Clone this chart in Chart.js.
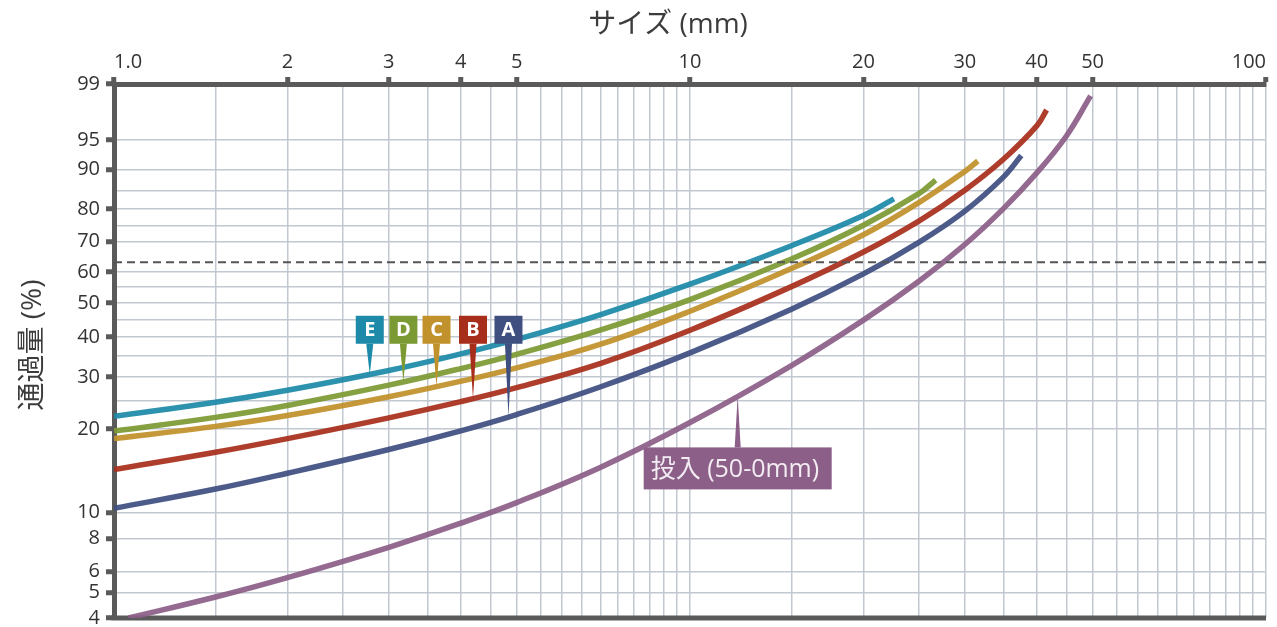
<!DOCTYPE html>
<html lang="ja">
<head>
<meta charset="utf-8">
<title>サイズ別通過量</title>
<script src="https://cdn.jsdelivr.net/npm/chart.js@4.4.1/dist/chart.umd.min.js"></script>
<style>
    html, body { margin: 0; padding: 0; background: #fff; }
    #wrap { width: 1277px; height: 627px; position: relative; }
</style>
</head>
<body>
<div id="wrap"><canvas id="sieveChart"></canvas></div>
<script>
// size (mm) and cumulative passing (%)
const sizesA = [1, 1.5, 2, 3, 4, 5, 7, 10, 15, 20, 25, 30, 35, 37.6];
const passA = [10.36, 12.2, 13.93, 16.95, 19.72, 22.45, 27.85, 35.76, 48.07, 59.34, 69.82, 79.46, 88.33, 92.64];

const sizesB = [1, 1.5, 2, 3, 4, 5, 7, 10, 15, 20, 25, 30, 35, 40, 41.6];
const passB = [14.36, 16.56, 18.51, 21.87, 24.83, 27.65, 33.17, 41.87, 55.19, 66.57, 76.55, 85.19, 91.97, 96.68, 98.03];

const sizesC = [1, 1.5, 2, 3, 4, 5, 7, 10, 15, 20, 25, 30, 31.6];
const passC = [18.53, 20.43, 22.27, 25.8, 29.03, 32.08, 38.02, 47.45, 61.09, 72.17, 81.95, 89.58, 91.65];

const sizesD = [1, 1.5, 2, 3, 4, 5, 7, 10, 15, 20, 25, 26.7];
const passD = [19.68, 21.95, 24.11, 28.19, 31.91, 35.39, 41.95, 51.04, 64.27, 75.2, 84.36, 87.67];

const sizesE = [1, 1.5, 2, 3, 4, 5, 7, 10, 15, 20, 22.6];
const passE = [22.13, 24.73, 27.12, 31.47, 35.51, 39.32, 46.46, 55.98, 68.64, 78.15, 82.9];

const sizesFeed = [1.06, 1.5, 2, 3, 4, 5, 7, 10, 15, 20, 25, 30, 35, 40, 45, 49.6];
const passFeed = [4.0, 4.81, 5.7, 7.42, 9.13, 10.88, 14.65, 21.07, 32.63, 44.78, 57.02, 69.03, 80.19, 89.26, 95.51, 98.84];

const characteristicPct = 63.2;

const xGridSizes = [1, 1.5, 2, 2.5, 3, 3.5, 4, 4.5, 5, 5.5, 6, 6.5, 7, 7.5, 8, 8.5, 9, 9.5, 10,
    15, 20, 25, 30, 35, 40, 45, 50, 55, 60, 65, 70, 75, 80, 85, 90, 95, 100];
const xTickLabels = { 1: '1.0', 2: '2', 3: '3', 4: '4', 5: '5', 10: '10', 20: '20', 30: '30', 40: '40', 50: '50', 100: '100' };

const yGridPcts = [4, 5, 6, 8, 10, 20, 25, 30, 35, 40, 45, 50, 55, 60, 70, 75, 80, 85, 90, 95];
const yTickLabels = [4, 5, 6, 8, 10, 20, 30, 40, 50, 60, 70, 80, 90, 95, 99];
const yMinPct = 4;
const yMaxPct = 99.3;

// Rosin-Rammler style axis: log(-ln(1 - P))
const rr = (pct) => Math.log10(-Math.log(1 - pct / 100));
const rrInv = (v) => 100 * (1 - Math.exp(-Math.pow(10, v)));

const axisColor = '#5a5a5a';
const gridColor = '#c1c8cf';
const textColor = '#333333';
const latinFont = '"Open Sans", "Noto Sans CJK JP", sans-serif';

const series = [
    { key: 'E', sizes: sizesE, pass: passE, color: '#1c8aa8' },
    { key: 'D', sizes: sizesD, pass: passD, color: '#7c9a33' },
    { key: 'C', sizes: sizesC, pass: passC, color: '#c1912b' },
    { key: 'B', sizes: sizesB, pass: passB, color: '#a82e1c' },
    { key: 'A', sizes: sizesA, pass: passA, color: '#3e4f80' },
    { key: 'feed', sizes: sizesFeed, pass: passFeed, color: '#8c5f88' },
];

const toPoints = (sizes, pass) => sizes.map((size, i) => ({ x: size, y: rr(pass[i]) }));

const withAlpha = (hex, alpha) => {
    const n = parseInt(hex.slice(1), 16);
    return `rgba(${(n >> 16) & 255}, ${(n >> 8) & 255}, ${n & 255}, ${alpha})`;
};

const yLabelFor = (value) => {
    const pct = rrInv(value);
    const hit = yTickLabels.find((label) => Math.abs(label - pct) < 0.5);
    return hit === undefined ? '' : String(hit);
};

// value of a curve (in axis units) at a given size, linear in log-x
const curveAt = (item, size) => {
    const { sizes, pass } = item;
    for (let i = 0; i < sizes.length - 1; i++) {
        if (size >= sizes[i] && size <= sizes[i + 1]) {
            const t = (Math.log10(size) - Math.log10(sizes[i])) / (Math.log10(sizes[i + 1]) - Math.log10(sizes[i]));
            return rr(pass[i]) + t * (rr(pass[i + 1]) - rr(pass[i]));
        }
    }
    return rr(pass[pass.length - 1]);
};

const badgePins = [
    { key: 'E', at: 2.78 },
    { key: 'D', at: 3.18 },
    { key: 'C', at: 3.63 },
    { key: 'B', at: 4.2 },
    { key: 'A', at: 4.84 },
];
const badgeRowPct = 42;
const feedNote = { key: 'feed', text: '投入 (50-0mm)', at: 12.1, boxPct: 14.5 };

const framePlugin = {
    id: 'frame',
    beforeDatasetsDraw(chart) {
        const { ctx, chartArea } = chart;
        ctx.save();
        ctx.strokeStyle = axisColor;
        ctx.lineWidth = 5;
        ctx.beginPath();
        ctx.moveTo(chartArea.left - 2.5, chartArea.bottom);
        ctx.lineTo(chartArea.right, chartArea.bottom);
        ctx.stroke();
        ctx.restore();
    },
    afterDraw(chart) {
        const { ctx } = chart;
        ctx.save();
        ctx.fillStyle = '#3c3c3c';
        ctx.font = `28px ${latinFont}`;
        ctx.textAlign = 'center';
        ctx.textBaseline = 'middle';
        ctx.fillText('サイズ (mm)', 668, 25);

        ctx.translate(33, 345);
        ctx.rotate(-Math.PI / 2);
        ctx.fillText('通過量 (%)', 0, 0);
        ctx.restore();
    },
};

const pinsPlugin = {
    id: 'pins',
    afterDatasetsDraw(chart) {
        const { ctx } = chart;
        const xScale = chart.scales.x;
        const yScale = chart.scales.y;
        ctx.save();

        badgePins.forEach((pin) => {
            const item = series.find((s) => s.key === pin.key);
            const cx = xScale.getPixelForValue(pin.at);
            const cy = yScale.getPixelForValue(rr(badgeRowPct));
            const tipY = yScale.getPixelForValue(curveAt(item, pin.at));
            const half = 14;

            ctx.fillStyle = item.color;
            ctx.fillRect(cx - half, cy - half, half * 2, half * 2);
            ctx.beginPath();
            ctx.moveTo(cx - 3.5, cy + half);
            ctx.lineTo(cx + 3.5, cy + half);
            ctx.lineTo(cx, tipY);
            ctx.closePath();
            ctx.fill();

            ctx.fillStyle = '#ffffff';
            ctx.font = `bold 20px ${latinFont}`;
            ctx.textAlign = 'center';
            ctx.textBaseline = 'middle';
            ctx.fillText(pin.key, cx, cy + 1);
        });

        const feed = series.find((s) => s.key === feedNote.key);
        const fx = xScale.getPixelForValue(feedNote.at);
        const fy = yScale.getPixelForValue(rr(feedNote.boxPct));
        const tip = yScale.getPixelForValue(curveAt(feed, feedNote.at));
        const boxW = 188;
        const boxH = 42;
        const left = fx - boxW / 2;
        const top = fy - boxH / 2;

        ctx.fillStyle = feed.color;
        ctx.fillRect(left, top, boxW, boxH);
        ctx.beginPath();
        ctx.moveTo(fx - 3, top);
        ctx.lineTo(fx + 3, top);
        ctx.lineTo(fx, tip);
        ctx.closePath();
        ctx.fill();

        ctx.fillStyle = '#f3ecf2';
        ctx.font = `25px ${latinFont}`;
        ctx.textAlign = 'left';
        ctx.textBaseline = 'middle';
        ctx.fillText(feedNote.text, left + 7, fy + 1);

        ctx.restore();
    },
};

const datasets = [
    {
        label: '63.2%',
        data: [{ x: 1, y: rr(characteristicPct) }, { x: 100, y: rr(characteristicPct) }],
        borderColor: '#555555',
        borderWidth: 2,
        borderDash: [8, 5],
        pointRadius: 0,
    },
    ...series.map((item) => ({
        label: item.key,
        data: toPoints(item.sizes, item.pass),
        borderColor: withAlpha(item.color, 0.93),
        borderWidth: 5.5,
        pointRadius: 0,
        tension: 0.4,
        borderCapStyle: 'butt',
    })),
];

new Chart(document.getElementById('sieveChart'), {
    type: 'line',
    data: { datasets },
    options: {
        responsive: true,
        maintainAspectRatio: false,
        animation: false,
        layout: { padding: { left: 0, top: 0, right: 11, bottom: 9 } },
        plugins: {
            legend: { display: false },
            tooltip: { enabled: false },
        },
        scales: {
            x: {
                type: 'logarithmic',
                position: 'top',
                min: 1,
                max: 100,
                afterBuildTicks: (scale) => {
                    scale.ticks = xGridSizes.map((value) => ({ value }));
                },
                afterFit: (scale) => {
                    scale.height = 84;
                    scale.paddingLeft = 0;
                    scale.paddingRight = 0;
                },
                ticks: {
                    autoSkip: false,
                    maxRotation: 0,
                    align: 'inner',
                    padding: 3,
                    color: textColor,
                    font: { family: latinFont, size: 20 },
                    callback: (value) => xTickLabels[value] ?? '',
                },
                grid: {
                    color: gridColor,
                    lineWidth: 1.5,
                    tickLength: 7,
                    tickWidth: 5,
                    tickColor: (ctx) => (ctx.tick && xTickLabels[ctx.tick.value] ? axisColor : 'rgba(0,0,0,0)'),
                },
                border: { color: axisColor, width: 5 },
            },
            y: {
                type: 'linear',
                min: rr(yMinPct),
                max: rr(yMaxPct),
                afterBuildTicks: (scale) => {
                    scale.ticks = [...yGridPcts, yMaxPct].map((pct) => ({ value: rr(pct) }));
                },
                afterFit: (scale) => {
                    scale.width = 114;
                    scale.paddingTop = 0;
                    scale.paddingBottom = 0;
                },
                ticks: {
                    autoSkip: false,
                    padding: 6,
                    color: textColor,
                    font: { family: latinFont, size: 20 },
                    callback: (value) => yLabelFor(value),
                },
                grid: {
                    color: gridColor,
                    lineWidth: 1.5,
                    tickLength: 8,
                    tickWidth: 5,
                    tickColor: (ctx) => (ctx.tick && yLabelFor(ctx.tick.value) ? axisColor : 'rgba(0,0,0,0)'),
                },
                border: { color: axisColor, width: 5 },
            },
        },
    },
    plugins: [framePlugin, pinsPlugin],
});
</script>
</body>
</html>
